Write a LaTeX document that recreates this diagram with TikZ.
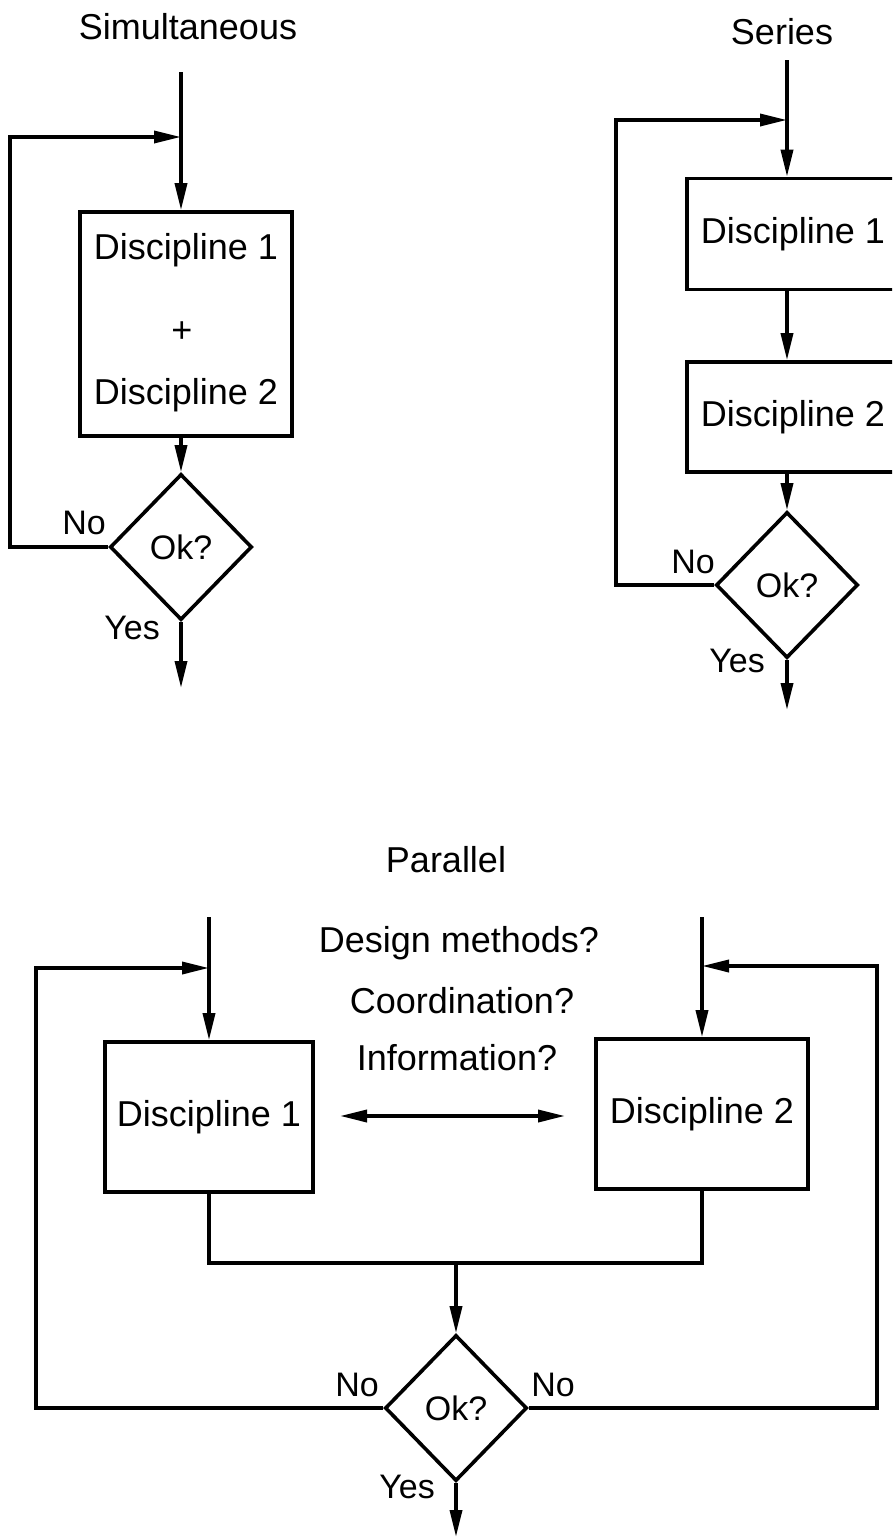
\documentclass[tikz,border=0pt]{standalone}
\usepackage{fontspec}
\setmainfont{Liberation Sans}
\usetikzlibrary{shapes.geometric,arrows.meta}
\tikzset{
  every node/.style={font=\fontsize{36}{43}\selectfont, inner sep=0pt},
  lbl/.style={font=\fontsize{34}{40}\selectfont},
  box/.style={draw, line width=3.6pt, rectangle},
  dec/.style={draw, line width=3.6pt, diamond, minimum width=142pt, minimum height=146pt, font=\fontsize{34}{40}\selectfont},
  conn/.style={line width=3.6pt},
  arr/.style={line width=3.6pt, -{Triangle[length=27pt,width=12pt]}},
  darr/.style={line width=3.6pt, {Triangle[length=27pt,width=12pt]}-{Triangle[length=27pt,width=12pt]}}
}
\begin{document}
\begin{tikzpicture}[x=1pt,y=-1pt]
\useasboundingbox (0,0) rectangle (892,1540);
\clip (0,0) rectangle (892,1540);

% ---------- Simultaneous ----------
\node (simT) at (188,27) {Simultaneous};
\node[box, minimum width=212pt, minimum height=224pt] (sB) at (186,324) {};
\node (sD1) at (186,250) {Discipline 1};
\node (sPl) at (182,332) {+};
\node (sD2) at (186,395) {Discipline 2};
\node[dec] (sOk) at (181,547) {Ok?};
\coordinate (sIn) at (181,72);
\coordinate (sJ) at (181,137);
\coordinate (sOut) at (181,688);
\draw[arr] (sIn) -- (sB.north -| sIn);
\draw[arr] (sB.south -| sOk) -- (sOk.north);
\draw[arr] (sOk.west) -- (10,547) -- (10,137) -- (sJ);
\draw[arr] (sOk.south) -- (sOut);
\node[lbl] (sNo) at (84,523) {No};
\node[lbl] (sYes) at (132,628) {Yes};

% ---------- Series ----------
\node (serT) at (782,32) {Series};
\node[box, minimum width=212pt, minimum height=111pt] (r1) at (793,234) {Discipline 1};
\node[box, minimum width=212pt, minimum height=110pt] (r2) at (793,417) {Discipline 2};
\node[dec] (rOk) at (787,585) {Ok?};
\coordinate (rIn) at (787,60);
\coordinate (rJ) at (787,120);
\coordinate (rOut) at (787,710);
\draw[arr] (rIn) -- (r1.north -| rIn);
\draw[arr] (r1.south -| rIn) -- (r2.north -| rIn);
\draw[arr] (r2.south -| rIn) -- (rOk.north);
\draw[arr] (rOk.west) -- (616,585) -- (616,120) -- (rJ);
\draw[arr] (rOk.south) -- (rOut);
\node[lbl] (rNo) at (693,562) {No};
\node[lbl] (rYes) at (737,661) {Yes};

% ---------- Parallel ----------
\node (pT) at (446,860) {Parallel};
\node (q1) at (459,943) {Design methods?};
\node (q2) at (462,1001) {Coordination?};
\node (q3) at (457,1058) {Information?};
\node[box, minimum width=208pt, minimum height=150pt] (p1) at (209,1117) {Discipline 1};
\node[box, minimum width=212pt, minimum height=150pt] (p2) at (702,1114) {Discipline 2};
\node[dec] (pOk) at (456,1408) {Ok?};
\coordinate (pIn1) at (209,917);
\coordinate (pIn2) at (702,917);
\coordinate (pJ1) at (209,968);
\coordinate (pJ2) at (702,966);
\coordinate (pA1) at (340,1116);
\coordinate (pA2) at (565,1116);
\coordinate (pM) at (456,1263);
\coordinate (pOut) at (456,1537);
\draw[arr] (pIn1) -- (p1.north);
\draw[arr] (pIn2) -- (p2.north);
\draw[darr] (pA1) -- (pA2);
\draw[conn] (p1.south) -- (209,1263) -- (702,1263) -- (p2.south);
\draw[arr] (pM) -- (pOk.north);
\draw[arr] (pOk.west) -- (36,1408) -- (36,968) -- (pJ1);
\draw[arr] (pOk.east) -- (877,1408) -- (877,966) -- (pJ2);
\draw[arr] (pOk.south) -- (pOut);
\node[lbl] (pNo1) at (357,1385) {No};
\node[lbl] (pNo2) at (553,1385) {No};
\node[lbl] (pYes) at (407,1487) {Yes};
\end{tikzpicture}
\end{document}
